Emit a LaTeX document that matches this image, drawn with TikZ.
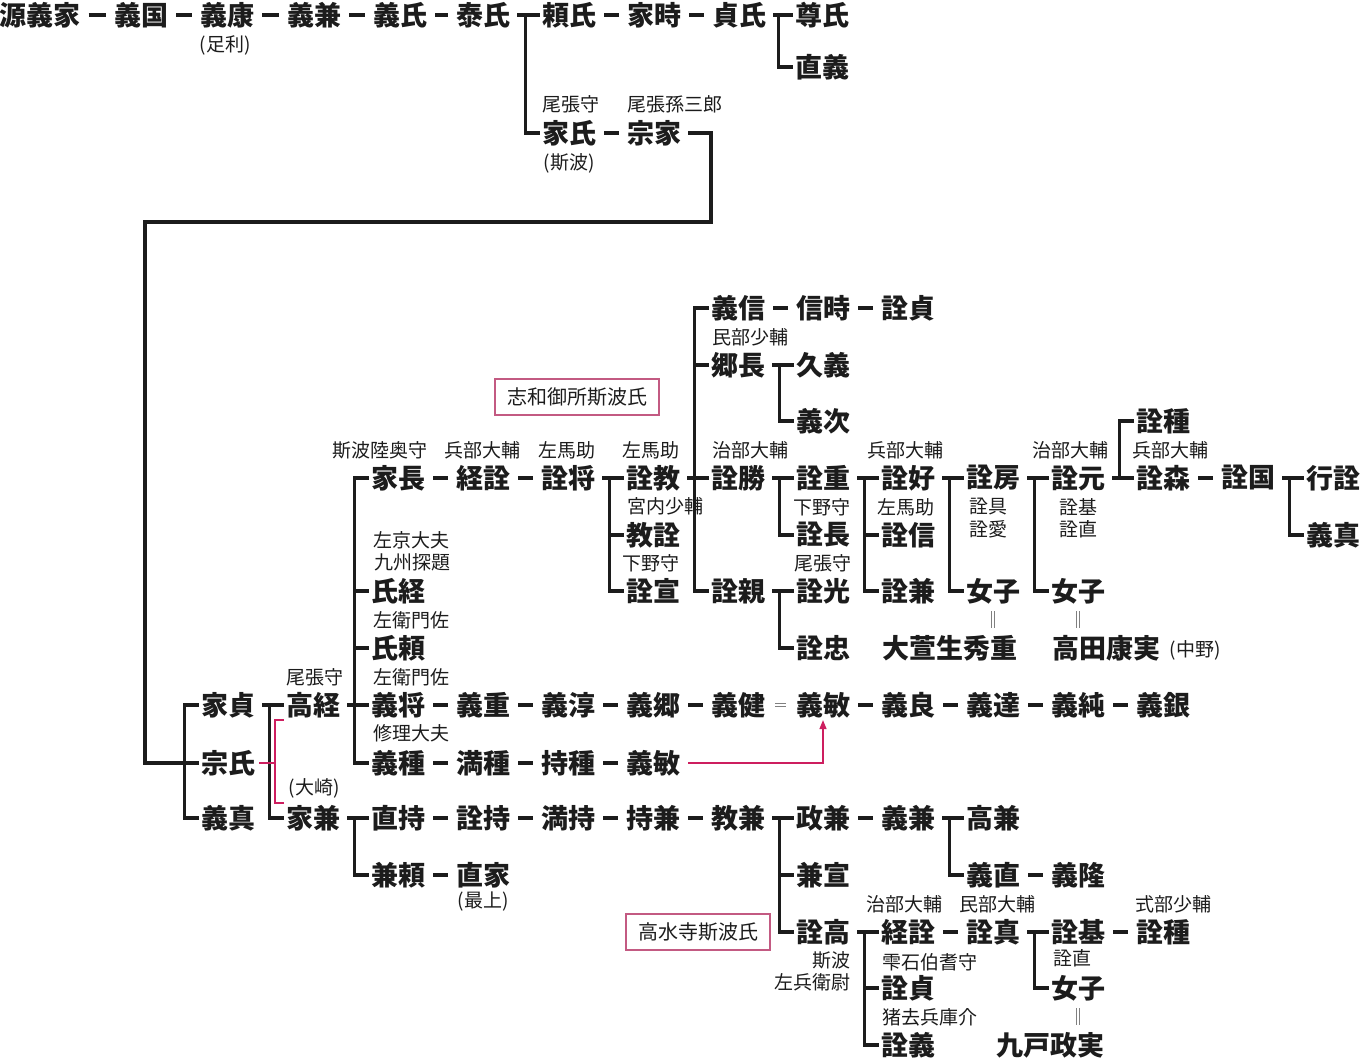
\documentclass[tikz,border=0pt]{standalone}
\usepackage{fontspec}
\setmainfont{Noto Sans CJK JP}
\usepackage{tikz}
\usetikzlibrary{arrows.meta,positioning}
\definecolor{adoptred}{RGB}{205,30,95}
\definecolor{boxpink}{RGB}{195,90,130}
\definecolor{ink}{RGB}{28,28,28}

\begin{document}
\begin{tikzpicture}[x=1pt, y=-1pt,
	person/.style={font=\bfseries\fontsize{27}{29}\selectfont, text=ink, inner sep=2pt},
	title/.style={font=\fontsize{19}{21}\selectfont, text=ink, inner sep=0pt},
	tree/.style={line width=3.2pt, draw=ink},
	link/.style={line width=3.2pt, draw=ink, shorten <=6pt, shorten >=6pt},
	adopt/.style={line width=1.4pt, draw=adoptred},
	equal/.style={draw=gray, line width=0.7pt, double, double distance=2.5pt, shorten <=8pt, shorten >=8pt},
	clan/.style={draw=boxpink, line width=1.2pt, font=\fontsize{20}{22}\selectfont, text=ink, inner xsep=12pt, minimum height=36pt}]
				\useasboundingbox (0,0) rectangle (1362,1060);

				% Ashikaga line
				\node [person] (yoshiie)   at (40,15)  {源義家};
				\node [person] (yoshikuni) at (141,15) {義国};
				\node [person] (yoshiyasu) at (227,15) {義康};
				\node [title]  (ashikaga)  at (225,45) {(足利)};
				\node [person] (yoshikane) at (314,15) {義兼};
				\node [person] (yoshiuji)  at (400,15) {義氏};
				\node [person] (yasuuji)   at (483,15) {泰氏};
				\node [person] (yoriuji)   at (569,15) {頼氏};
				\node [person] (ietoki)    at (654,15) {家時};
				\node [person] (sadauji)   at (739,15) {貞氏};
				\node [person] (takauji)   at (822,15) {尊氏};
				\node [person] (tadayoshi) at (822,67) {直義};
				\node [title]  (t-ieuji)   at (571,104) {尾張守};
				\node [title]  (t-muneie)  at (675,104) {尾張孫三郎};
				\node [person] (ieuji)     at (569,133) {家氏};
				\node [title]  (shiba)     at (569,163) {(斯波)};
				\node [person] (muneie)    at (654,133) {宗家};
				\coordinate (bend1) at (711,222);
				\coordinate (bend2) at (145,763);

				% Shiba main line
				\node [person] (ies)        at (228,705) {家貞};
				\node [person] (muneuji)    at (228,763) {宗氏};
				\node [person] (yoshizane)  at (228,818) {義真};
				\node [title]  (t-takatsune) at (315,677) {尾張守};
				\node [person] (takatsune)  at (313,705) {高経};
				\node [title]  (osaki)      at (314,788) {(大崎)};
				\node [person] (iekane)     at (313,818) {家兼};

				\node [title]  (t-ienaga)   at (380,450) {斯波陸奥守};
				\node [person] (ienaga)     at (398,478) {家長};
				\node [title]  (t-tsuneaki) at (482,450) {兵部大輔};
				\node [person] (tsuneaki)   at (483,478) {経詮};
				\node [title]  (t-akimasa)  at (567,450) {左馬助};
				\node [person] (akimasa)    at (568,478) {詮将};
				\node [title]  (t-ujitsune) at (411,540) {左京大夫};
				\node [title]  (t-ujitsune2) at (412,562) {九州探題};
				\node [person] (ujitsune)   at (398,591) {氏経};
				\node [title]  (t-ujiyori)  at (411,620) {左衛門佐};
				\node [person] (ujiyori)    at (398,648) {氏頼};
				\node [title]  (t-yoshimasa) at (411,677) {左衛門佐};
				\node [person] (yoshimasa)  at (398,705) {義将};
				\node [title]  (t-yoshitane) at (411,733) {修理大夫};
				\node [person] (yoshitane)  at (398,763) {義種};

				\node [person] (yoshishige) at (483,705) {義重};
				\node [person] (yoshiatsu)  at (568,705) {義淳};
				\node [person] (yoshisato)  at (653,705) {義郷};
				\node [person] (yoshitake)  at (738,705) {義健};
				\node [person] (yoshitoshi) at (823,705) {義敏};
				\node [person] (yoshinaga)  at (908,705) {義良};
				\node [person] (yoshimichi) at (993,705) {義達};
				\node [person] (yoshizumi)  at (1078,705) {義純};
				\node [person] (yoshikane2) at (1163,705) {義銀};
				\node [person] (mitsutane)  at (483,763) {満種};
				\node [person] (mochitane)  at (568,763) {持種};
				\node [person] (yoshitoshib) at (653,763) {義敏};

				% Shiwa gosho
				\node [clan] (shiwa) at (577,397) {志和御所斯波氏};
				\node [title]  (t-akinori)  at (651,450) {左馬助};
				\node [person] (akinori)    at (653,478) {詮教};
				\node [title]  (t-noriaki)  at (665,506) {宮内少輔};
				\node [person] (noriaki)    at (653,535) {教詮};
				\node [title]  (t-akinobu)  at (651,563) {下野守};
				\node [person] (akinobu)    at (653,591) {詮宣};
				\node [person] (yoshinobu)  at (738,308) {義信};
				\node [person] (nobutoki)   at (823,308) {信時};
				\node [person] (akisada)    at (908,308) {詮貞};
				\node [title]  (t-satonaga) at (750,337) {民部少輔};
				\node [person] (satonaga)   at (738,365) {郷長};
				\node [person] (hisayoshi)  at (823,365) {久義};
				\node [person] (yoshitsugu) at (823,421) {義次};
				\node [title]  (t-akikatsu) at (750,450) {治部大輔};
				\node [person] (akikatsu)   at (738,478) {詮勝};
				\node [person] (akichika)   at (738,591) {詮親};
				\node [person] (akishige)   at (823,478) {詮重};
				\node [title]  (t-akinaga)  at (822,507) {下野守};
				\node [person] (akinaga)    at (823,535) {詮長};
				\node [title]  (t-akimitsu) at (823,563) {尾張守};
				\node [person] (akimitsu)   at (823,591) {詮光};
				\node [person] (akitada)    at (823,648) {詮忠};
				\node [title]  (t-akiyoshi) at (905,450) {兵部大輔};
				\node [person] (akiyoshi)   at (908,478) {詮好};
				\node [title]  (t-akinobu2) at (906,507) {左馬助};
				\node [person] (akinobu2)   at (908,535) {詮信};
				\node [person] (akikane)    at (908,591) {詮兼};
				\node [person] (akifusa)    at (993,478) {詮房};
				\node [title]  (akitomo)    at (988,507) {詮具};
				\node [title]  (akichika2)  at (988,529) {詮愛};
				\node [person] (joshi1)     at (993,591) {女子};
				\node [person] (hideshige)  at (950,648) {大萱生秀重};
				\node [title]  (t-akimoto)  at (1070,450) {治部大輔};
				\node [person] (akimoto)    at (1078,478) {詮元};
				\node [title]  (akimoto3)   at (1078,507) {詮基};
				\node [title]  (akinao)     at (1078,529) {詮直};
				\node [person] (joshi2)     at (1078,591) {女子};
				\node [person] (yasuzane)   at (1106,648) {高田康実};
				\node [title]  (nakano)     at (1195,650) {(中野)};
				\node [person] (akitane)    at (1163,421) {詮種};
				\node [title]  (t-akimori)  at (1170,450) {兵部大輔};
				\node [person] (akimori)    at (1163,478) {詮森};
				\node [person] (akikuni)    at (1248,478) {詮国};
				\node [person] (yukiaki)    at (1333,478) {行詮};
				\node [person] (yoshizane2) at (1333,535) {義真};

				% Oshu line and Kosuiji
				\node [person] (naomochi)   at (398,818) {直持};
				\node [person] (akimochi)   at (483,818) {詮持};
				\node [person] (mitsumochi) at (568,818) {満持};
				\node [person] (mochikane)  at (653,818) {持兼};
				\node [person] (norikane)   at (738,818) {教兼};
				\node [person] (kaneyori)   at (398,875) {兼頼};
				\node [person] (naoie)      at (483,875) {直家};
				\node [title]  (mogami)     at (483,902) {(最上)};
				\node [person] (masakane)   at (823,818) {政兼};
				\node [person] (kanenobu)   at (823,875) {兼宣};
				\node [person] (akitaka)    at (823,932) {詮高};
				\node [person] (yoshikane3) at (908,818) {義兼};
				\node [person] (takakane)   at (993,818) {高兼};
				\node [person] (yoshinao)   at (993,875) {義直};
				\node [person] (yoshitaka)  at (1078,875) {義隆};
				\node [clan] (kosuiji) at (698,932) {高水寺斯波氏};
				\node [title, anchor=east] (t-akitaka)  at (851,960) {斯波};
				\node [title, anchor=east] (t-akitaka2) at (851,982) {左兵衛尉};
				\node [title]  (t-tsuneaki2) at (904,904) {治部大輔};
				\node [person] (tsuneaki2)  at (908,932) {経詮};
				\node [title]  (t-akisada2) at (930,962) {雫石伯耆守};
				\node [person] (akisada2)   at (908,988) {詮貞};
				\node [title]  (t-akiyoshi2) at (930,1017) {猪去兵庫介};
				\node [person] (akiyoshi2)  at (908,1045) {詮義};
				\node [title]  (t-akizane)  at (997,904) {民部大輔};
				\node [person] (akizane)    at (993,932) {詮真};
				\node [person] (akimoto2)   at (1078,932) {詮基};
				\node [title]  (akinao2)    at (1072,958) {詮直};
				\node [person] (joshi3)     at (1078,988) {女子};
				\node [person] (masazane)   at (1050,1045) {九戸政実};
				\node [title]  (t-akitane2) at (1173,904) {式部少輔};
				\node [person] (akitane2)   at (1163,932) {詮種};

				% father to son
				\foreach \a/\b in {yoshiie/yoshikuni, yoshikuni/yoshiyasu, yoshiyasu/yoshikane, yoshikane/yoshiuji,
					yoshiuji/yasuuji, yoriuji/ietoki, ietoki/sadauji, ieuji/muneie,
					ienaga/tsuneaki, tsuneaki/akimasa, yoshimasa/yoshishige, yoshishige/yoshiatsu,
					yoshiatsu/yoshisato, yoshisato/yoshitake, yoshitoshi/yoshinaga, yoshinaga/yoshimichi,
					yoshimichi/yoshizumi, yoshizumi/yoshikane2, yoshitane/mitsutane, mitsutane/mochitane,
					mochitane/yoshitoshib, yoshinobu/nobutoki, nobutoki/akisada, akimori/akikuni,
					naomochi/akimochi, akimochi/mitsumochi, mitsumochi/mochikane, mochikane/norikane,
					kaneyori/naoie, masakane/yoshikane3, yoshinao/yoshitaka, tsuneaki2/akizane, akimoto2/akitane2}
					\draw [link] (\a) -- (\b);

				% two children
				\foreach \p/\t/\b in {yasuuji/yoriuji/ieuji, sadauji/takauji/tadayoshi, ies/takatsune/iekane,
					satonaga/hisayoshi/yoshitsugu, akikatsu/akishige/akinaga, akichika/akimitsu/akitada,
					akiyoshi/akifusa/joshi1, akifusa/akimoto/joshi2, akikuni/yukiaki/yoshizane2,
					iekane/naomochi/kaneyori, yoshikane3/takakane/yoshinao, akizane/akimoto2/joshi3}
				{
					\draw [tree, shorten <=5pt] (\p) -- (\t);
					\draw [tree] (\t.west) -- ++(-14pt,0) |- (\b.west);
				}

				% three or more children
				\draw [tree, shorten <=5pt] (takatsune) -- (yoshimasa);
				\draw [tree] (ienaga.west) -- ++(-14pt,0) |- (yoshitane.west);
				\foreach \m in {ujitsune, ujiyori} \draw [tree] (\m.west) -- ++(-14pt,0);

				\draw [tree, shorten <=5pt] (akimasa) -- (akinori);
				\draw [tree] (akinori.west) -- ++(-14pt,0) |- (akinobu.west);
				\draw [tree] (noriaki.west) -- ++(-14pt,0);

				\draw [tree, shorten <=5pt] (akinori) -- (akikatsu);
				\draw [tree] (yoshinobu.west) -- ++(-14pt,0) |- (akichika.west);
				\draw [tree] (satonaga.west) -- ++(-14pt,0);

				\draw [tree, shorten <=5pt] (akishige) -- (akiyoshi);
				\draw [tree] (akiyoshi.west) -- ++(-14pt,0) |- (akikane.west);
				\draw [tree] (akinobu2.west) -- ++(-14pt,0);

				\draw [tree, shorten <=5pt] (akimoto) -- (akimori);
				\draw [tree] (akitane.west) -- ++(-14pt,0) |- (akimori.west);

				\draw [tree, shorten <=5pt] (norikane) -- (masakane);
				\draw [tree] (masakane.west) -- ++(-14pt,0) |- (akitaka.west);
				\draw [tree] (kanenobu.west) -- ++(-14pt,0);

				\draw [tree, shorten <=5pt] (akitaka) -- (tsuneaki2);
				\draw [tree] (tsuneaki2.west) -- ++(-14pt,0) |- (akiyoshi2.west);
				\draw [tree] (akisada2.west) -- ++(-14pt,0);

				% Muneie down to the three brothers
				\draw [tree, shorten <=5pt] (muneie) -| (bend1) -| (bend2) -- (muneuji);
				\draw [tree] (ies.west) -- ++(-14pt,0) |- (yoshizane.west);

				% adoption
				\coordinate (redtop) at ([xshift=-9pt]takatsune.south west);
				\draw [adopt] (takatsune.south west) -- (redtop) |- (iekane.north west);
				\draw [adopt, shorten <=2pt] (muneuji) -- (muneuji -| redtop);
				\draw [adopt, -{Triangle[length=9pt,width=7pt]}, shorten <=6pt] (yoshitoshib) -| (yoshitoshi);
				\draw [equal] (yoshitake) -- (yoshitoshi);

				% marriage
				\draw [equal, shorten <=5pt, shorten >=5pt] (joshi1) -- (joshi1 |- hideshige.north);
				\draw [equal, shorten <=5pt, shorten >=5pt] (joshi2) -- (joshi2 |- yasuzane.north);
				\draw [equal, shorten <=5pt, shorten >=5pt] (joshi3) -- (joshi3 |- masazane.north);
				\end{tikzpicture}
\end{document}
